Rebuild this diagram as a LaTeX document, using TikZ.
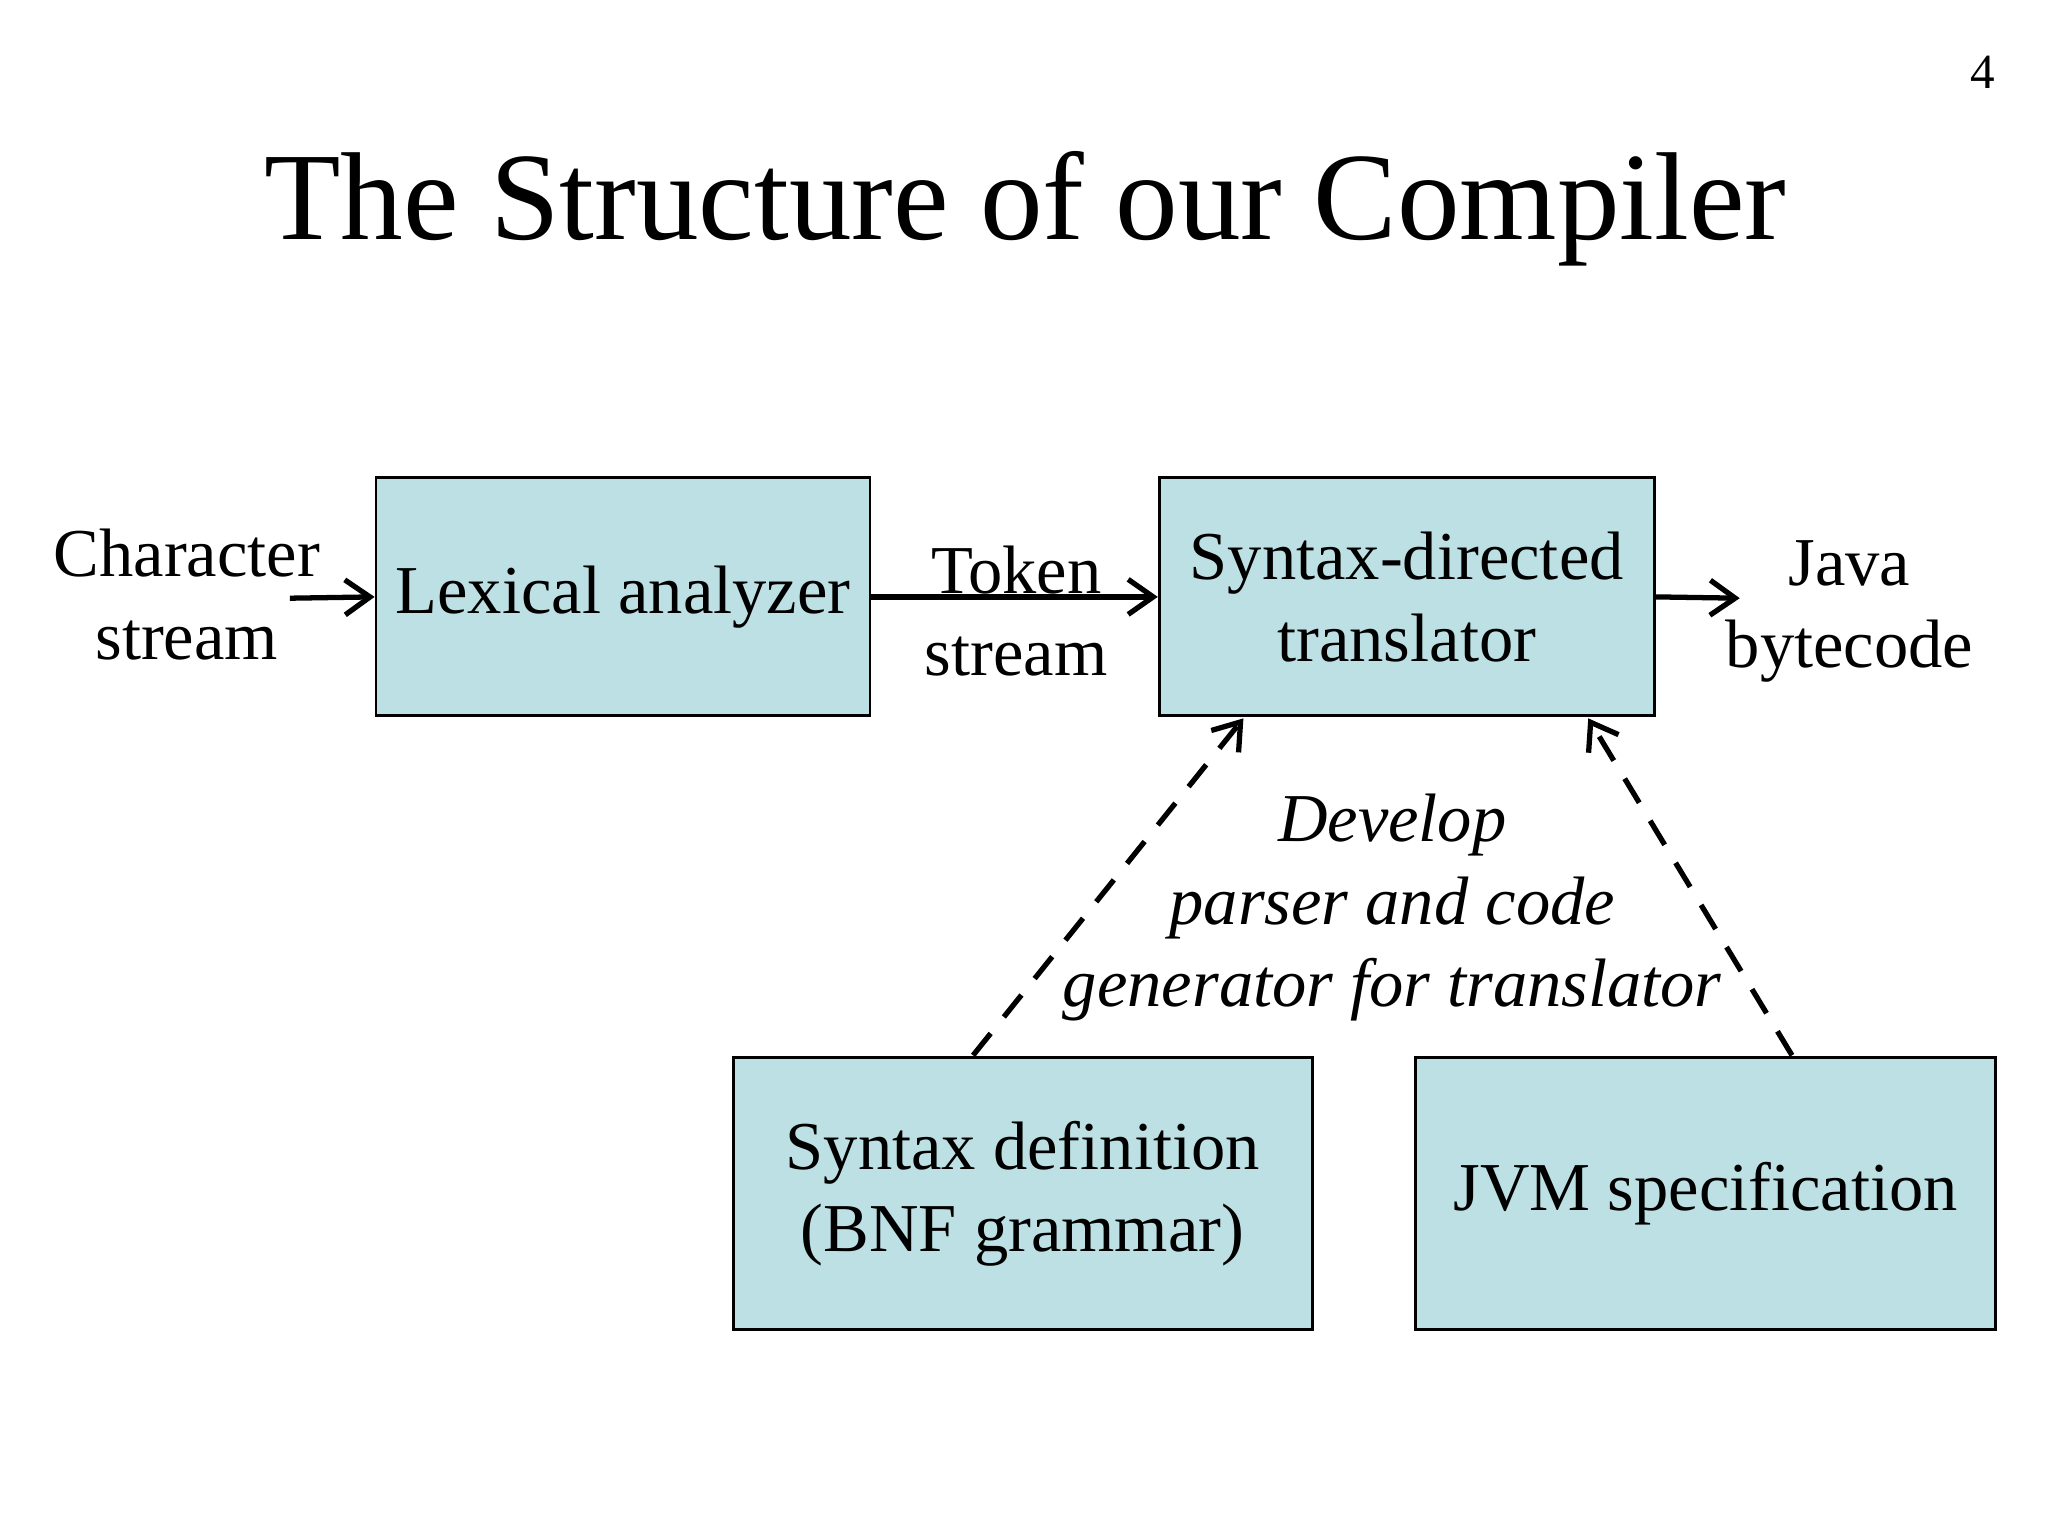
\documentclass[tikz,border=0pt]{standalone}
\usepackage{fontspec}
\setmainfont{Liberation Serif}
\usetikzlibrary{arrows.meta}
\definecolor{boxfill}{RGB}{188,224,227}
\tikzset{
    block/.style={draw=black, fill=boxfill, line width=0.8pt, inner sep=0pt, align=center, font=\fontsize{19.5}{23.5}\selectfont},
    lbl/.style={align=center, font=\fontsize{19.5}{23.5}\selectfont},
    flow/.style={-{Straight Barb[length=2.5mm,width=3.5mm]}, line width=1.5pt},
    dev/.style={flow, dashed, dash pattern=on 8pt off 6pt}
}
\begin{document}
\begin{tikzpicture}[x=0.01306cm, y=-0.01306cm]
    \useasboundingbox (0,0) rectangle (1568,1176);

    \node[font=\fontsize{14}{16}\selectfont] (page) at (1518,55) {4};
    \node[font=\fontsize{35.6}{40}\selectfont] (title) at (785,160) {The Structure of our Compiler};

    \node[block, minimum width=4.94cm, minimum height=2.38cm] (lex) at (477,457) {Lexical analyzer};
    \node[block, minimum width=4.95cm, minimum height=2.38cm] (sdt) at (1077,457) {Syntax-directed\\translator};
    \node[block, minimum width=5.79cm, minimum height=2.72cm] (syn) at (783,914) {Syntax definition\\(BNF grammar)};
    \node[block, minimum width=5.80cm, minimum height=2.72cm] (jvm) at (1306,914) {JVM specification};

    \node[lbl] (chars) at (143,455) {Character\\stream};
    \node[lbl] (tokens) at (778,468) {Token\\stream};
    \node[lbl] (java) at (1416,468) {Java\\bytecode};
    \node[lbl, font=\fontsize{19.5}{23.5}\selectfont\itshape] (develop) at (1066,695) {Develop\\parser and code\\generator for translator};

    \coordinate (cin) at (222,458);
    \coordinate (jout) at (1332,458);
    \draw[flow] (cin) -- (lex.west);
    \draw[flow] (lex.east) -- (sdt.west);
    \draw[flow] (sdt.east) -- (jout);

    \draw[dev] (745,808) -- (952,550);
    \draw[dev] (1372,808) -- (1216,550);
\end{tikzpicture}
\end{document}
